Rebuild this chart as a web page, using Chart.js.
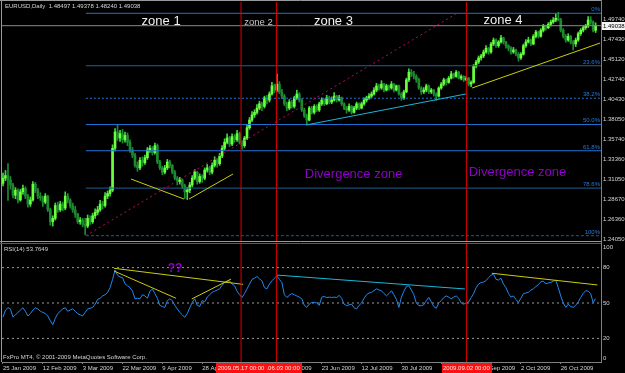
<!DOCTYPE html>
<html><head><meta charset="utf-8">
<script src="https://cdn.jsdelivr.net/npm/chart.js@4.4.0/dist/chart.umd.min.js"></script>
<style>
html,body{margin:0;padding:0;background:#000;width:625px;height:373px;overflow:hidden}
canvas{position:absolute;left:0;top:0}
</style></head><body>
<canvas id="main" width="625" height="373"></canvas>
<canvas id="rsi" width="625" height="373"></canvas>
<script>
// ---------------- DATA ----------------
const symbolTitle = "EURUSD,Daily  1.48497 1.49378 1.48240 1.49038";
const opens = [
1.3060,1.3120,1.3150,1.3100,1.3040,1.2920,1.2980,1.2865,1.2960,1.3000,
1.2910,1.2817,1.2865,1.3050,1.2980,1.2910,1.2890,1.2840,1.2910,1.2750,
1.2610,1.2650,1.2800,1.2750,1.2817,1.2770,1.2910,1.2865,1.2800,1.2750,
1.2700,1.2610,1.2630,1.2580,1.2560,1.2650,1.2610,1.2680,1.2720,1.2750,
1.2817,1.2800,1.2910,1.2940,1.2980,1.3470,1.3660,1.3590,1.3640,1.3570,
1.3620,1.3540,1.3450,1.3390,1.3270,1.3240,1.3330,1.3300,1.3360,1.3450,
1.3470,1.3420,1.3500,1.3310,1.3240,1.3190,1.3240,1.3310,1.3270,1.3190,
1.3120,1.3080,1.3100,1.3030,1.2960,1.2980,1.3040,1.3120,1.3190,1.3080,
1.3140,1.3120,1.3215,1.3240,1.3190,1.3270,1.3330,1.3290,1.3380,1.3470,
1.3540,1.3590,1.3520,1.3606,1.3570,1.3640,1.3540,1.3500,1.3590,1.3710,
1.3800,1.3860,1.3890,1.3940,1.3990,1.3960,1.4060,1.4034,1.4105,1.4200,
1.4150,1.4220,1.4130,1.4080,1.3990,1.3940,1.4010,1.3960,1.4060,1.4105,
1.4034,1.3917,1.3850,1.3800,1.3940,1.3890,1.3960,1.3917,1.3990,1.4034,
1.3990,1.4060,1.4010,1.4034,1.4080,1.4034,1.4060,1.3990,1.3940,1.3917,
1.3960,1.3890,1.3940,1.3990,1.3940,1.3990,1.4034,1.4060,1.4080,1.4105,
1.4150,1.4200,1.4175,1.4220,1.4150,1.4200,1.4175,1.4220,1.4150,1.4200,
1.4105,1.4060,1.4130,1.4270,1.4360,1.4340,1.4310,1.4270,1.4175,1.4130,
1.4150,1.4200,1.4130,1.4150,1.4105,1.4080,1.4175,1.4220,1.4270,1.4240,
1.4290,1.4340,1.4310,1.4360,1.4290,1.4310,1.4270,1.4290,1.4220,1.4240,
1.4430,1.4478,1.4526,1.4550,1.4596,1.4640,1.4596,1.4690,1.4736,1.4670,
1.4713,1.4760,1.4713,1.4670,1.4640,1.4596,1.4620,1.4570,1.4526,1.4570,
1.4670,1.4713,1.4736,1.4690,1.4780,1.4830,1.4780,1.4850,1.4900,1.4880,
1.4920,1.4947,1.4970,1.4990,1.4970,1.4850,1.4780,1.4736,1.4780,1.4713,
1.4690,1.4736,1.4810,1.4850,1.4880,1.4900,1.4970,1.4947,1.48497];
const highs = [
1.3180,1.3210,1.3290,1.3140,1.3060,1.3010,1.2995,1.2990,1.3040,1.3020,
1.2930,1.2900,1.3080,1.3070,1.3000,1.2950,1.2910,1.2940,1.2920,1.2770,
1.2680,1.2830,1.2840,1.2850,1.2840,1.2960,1.2940,1.2880,1.2830,1.2790,
1.2710,1.2660,1.2650,1.2650,1.2690,1.2680,1.2710,1.2760,1.2790,1.2860,
1.2850,1.2950,1.2970,1.3020,1.3510,1.3700,1.3740,1.3680,1.3690,1.3660,
1.3650,1.3570,1.3480,1.3410,1.3310,1.3360,1.3370,1.3390,1.3480,1.3500,
1.3490,1.3530,1.3520,1.3330,1.3260,1.3270,1.3340,1.3330,1.3280,1.3210,
1.3140,1.3130,1.3110,1.3050,1.3010,1.3070,1.3150,1.3220,1.3200,1.3170,
1.3160,1.3240,1.3280,1.3260,1.3300,1.3370,1.3350,1.3410,1.3500,1.3580,
1.3640,1.3610,1.3640,1.3630,1.3680,1.3660,1.3560,1.3610,1.3740,1.3830,
1.3900,1.3920,1.3980,1.4020,1.4010,1.4080,1.4090,1.4130,1.4240,1.4220,
1.4340,1.4250,1.4160,1.4100,1.4010,1.4040,1.4030,1.4080,1.4150,1.4120,
1.4050,1.3940,1.3870,1.3960,1.3960,1.3980,1.3980,1.4010,1.4060,1.4050,
1.4090,1.4080,1.4070,1.4120,1.4090,1.4090,1.4070,1.4000,1.3960,1.3990,
1.3970,1.3960,1.4010,1.4000,1.4010,1.4060,1.4080,1.4110,1.4130,1.4180,
1.4230,1.4220,1.4260,1.4230,1.4220,1.4210,1.4250,1.4230,1.4210,1.4210,
1.4120,1.4150,1.4290,1.4400,1.4390,1.4370,1.4330,1.4290,1.4190,1.4180,
1.4220,1.4210,1.4170,1.4160,1.4120,1.4190,1.4240,1.4290,1.4280,1.4310,
1.4370,1.4350,1.4380,1.4370,1.4330,1.4320,1.4310,1.4300,1.4260,1.4450,
1.4500,1.4550,1.4570,1.4620,1.4670,1.4650,1.4710,1.4760,1.4750,1.4730,
1.4790,1.4770,1.4720,1.4680,1.4660,1.4650,1.4630,1.4590,1.4590,1.4690,
1.4740,1.4770,1.4750,1.4800,1.4850,1.4840,1.4870,1.4920,1.4910,1.4940,
1.4970,1.5000,1.5040,1.5061,1.4990,1.4870,1.4800,1.4810,1.4790,1.4730,
1.4760,1.4830,1.4870,1.4900,1.4920,1.5010,1.5010,1.4960,1.49378];
const lows = [
1.3030,1.3090,1.2860,1.2990,1.2890,1.2880,1.2830,1.2850,1.2930,1.2880,
1.2780,1.2790,1.2850,1.2950,1.2880,1.2860,1.2790,1.2820,1.2730,1.2570,
1.2560,1.2630,1.2720,1.2730,1.2740,1.2750,1.2830,1.2770,1.2720,1.2660,
1.2590,1.2580,1.2550,1.2455,1.2540,1.2580,1.2590,1.2650,1.2690,1.2730,
1.2760,1.2780,1.2880,1.2910,1.2960,1.3440,1.3560,1.3550,1.3530,1.3540,
1.3500,1.3420,1.3360,1.3250,1.3200,1.3220,1.3260,1.3280,1.3340,1.3420,
1.3390,1.3400,1.3290,1.3220,1.3160,1.3170,1.3220,1.3240,1.3170,1.3100,
1.3040,1.3050,1.3000,1.2880,1.2870,1.2950,1.3020,1.3100,1.3050,1.3060,
1.3070,1.3100,1.3190,1.3160,1.3170,1.3250,1.3250,1.3270,1.3360,1.3450,
1.3520,1.3490,1.3500,1.3540,1.3550,1.3520,1.3460,1.3480,1.3570,1.3690,
1.3780,1.3830,1.3870,1.3920,1.3910,1.3940,1.3990,1.4010,1.4090,1.4120,
1.4130,1.4110,1.4050,1.3970,1.3910,1.3920,1.3940,1.3940,1.4040,1.4010,
1.3900,1.3830,1.3745,1.3790,1.3870,1.3870,1.3900,1.3900,1.3970,1.3970,
1.3980,1.3990,1.3990,1.4020,1.4010,1.4020,1.3970,1.3920,1.3880,1.3900,
1.3870,1.3880,1.3920,1.3920,1.3930,1.3970,1.4010,1.4040,1.4060,1.4090,
1.4130,1.4150,1.4160,1.4130,1.4140,1.4150,1.4160,1.4130,1.4140,1.4090,
1.4030,1.4040,1.4120,1.4250,1.4310,1.4280,1.4240,1.4160,1.4100,1.4110,
1.4130,1.4110,1.4110,1.4080,1.4030,1.4070,1.4160,1.4200,1.4210,1.4230,
1.4280,1.4290,1.4300,1.4280,1.4270,1.4250,1.4260,1.4200,1.4190,1.4230,
1.4410,1.4460,1.4500,1.4530,1.4580,1.4570,1.4580,1.4670,1.4650,1.4650,
1.4700,1.4690,1.4640,1.4610,1.4570,1.4580,1.4550,1.4490,1.4510,1.4560,
1.4650,1.4700,1.4670,1.4680,1.4760,1.4760,1.4770,1.4830,1.4850,1.4870,
1.4900,1.4930,1.4950,1.4960,1.4830,1.4760,1.4710,1.4720,1.4690,1.4620,
1.4660,1.4720,1.4790,1.4830,1.4860,1.4880,1.4920,1.4830,1.48240];
const closes = [
1.3120,1.3150,1.3100,1.3040,1.2920,1.2980,1.2865,1.2960,1.3000,1.2910,
1.2817,1.2865,1.3050,1.2980,1.2910,1.2890,1.2840,1.2910,1.2750,1.2610,
1.2650,1.2800,1.2750,1.2817,1.2770,1.2910,1.2865,1.2800,1.2750,1.2700,
1.2610,1.2630,1.2580,1.2560,1.2650,1.2610,1.2680,1.2720,1.2750,1.2817,
1.2800,1.2910,1.2940,1.2980,1.3470,1.3660,1.3590,1.3640,1.3570,1.3620,
1.3540,1.3450,1.3390,1.3270,1.3240,1.3330,1.3300,1.3360,1.3450,1.3470,
1.3420,1.3500,1.3310,1.3240,1.3190,1.3240,1.3310,1.3270,1.3190,1.3120,
1.3080,1.3100,1.3030,1.2960,1.2980,1.3040,1.3120,1.3190,1.3080,1.3140,
1.3120,1.3215,1.3240,1.3190,1.3270,1.3330,1.3290,1.3380,1.3470,1.3540,
1.3590,1.3520,1.3606,1.3570,1.3640,1.3540,1.3500,1.3590,1.3710,1.3800,
1.3860,1.3890,1.3940,1.3990,1.3960,1.4060,1.4034,1.4105,1.4200,1.4150,
1.4220,1.4130,1.4080,1.3990,1.3940,1.4010,1.3960,1.4060,1.4105,1.4034,
1.3917,1.3850,1.3800,1.3940,1.3890,1.3960,1.3917,1.3990,1.4034,1.3990,
1.4060,1.4010,1.4034,1.4080,1.4034,1.4060,1.3990,1.3940,1.3917,1.3960,
1.3890,1.3940,1.3990,1.3940,1.3990,1.4034,1.4060,1.4080,1.4105,1.4150,
1.4200,1.4175,1.4220,1.4150,1.4200,1.4175,1.4220,1.4150,1.4200,1.4105,
1.4060,1.4130,1.4270,1.4360,1.4340,1.4310,1.4270,1.4175,1.4130,1.4150,
1.4200,1.4130,1.4150,1.4105,1.4080,1.4175,1.4220,1.4270,1.4240,1.4290,
1.4340,1.4310,1.4360,1.4290,1.4310,1.4270,1.4290,1.4220,1.4240,1.4430,
1.4478,1.4526,1.4550,1.4596,1.4640,1.4596,1.4690,1.4736,1.4670,1.4713,
1.4760,1.4713,1.4670,1.4640,1.4596,1.4620,1.4570,1.4526,1.4570,1.4670,
1.4713,1.4736,1.4690,1.4780,1.4830,1.4780,1.4850,1.4900,1.4880,1.4920,
1.4947,1.4970,1.4990,1.4970,1.4850,1.4780,1.4736,1.4780,1.4713,1.4690,
1.4736,1.4810,1.4850,1.4880,1.4900,1.4970,1.4947,1.4850,1.49038];
const rsiValues = [
38,44,46,45,38,40,42,44,46,43,
39,41,44,46,45,43,42,41,39,35,
31.6,37,41,43,45,46,43,44,45,43,
41,40,39,42,45,45.5,46.3,49,53,54,
56,57,59,63,70,78,73.5,72,71.6,66.3,
64.6,63,60,53.6,54,53.6,57,56,54,60,
61.8,58,54,48,47,46.3,52,53.6,52,48,
45,42,40,37.8,41,46,50.5,53.6,48,47,
52,51,55,57,59,60,61,62,65,67.4,
68,68.8,66,64.6,60,57,54.7,58,62,66,
70,71,72.5,70.5,68.8,63,62,66,68.8,71,
73,70,67.4,57,54.7,56.5,58,57,56,55,
53.6,48,46.3,49,50.5,50.5,50,48,55,55.5,
54.6,55,54.6,55,54.6,56.5,54,49,47.7,48.5,
49,46,45,48,50,54,57,58.5,59,60.5,
62,61,60.4,58,56,58,60.4,57,53,46.3,
55,60,64,64.6,61,57,50,47.7,47.7,48.5,
52,54.7,51,47,45.5,50,52,54.5,56,55,
53.6,55,56,54,50,49,50,51,54.5,58,
63,66,67.4,67.8,69,71.5,73.5,74.5,70,69.5,
71,66,63,58,55,56,53,50.5,54,58,
58.5,59,61,62,64,65.5,68,68.5,66.3,67,
67.4,68.5,69.4,63,56,50,46.3,49,47,46.3,
48,51,54.7,58,60.4,60,58,50.5,53.7649];
const rsiTitle = "RSI(14) 53.7649";
const copyright = "FxPro MT4, \u00a9 2001-2009 MetaQuotes Software Corp.";

const xTickBars = [0,16,32,48,64,80,96,112,128,144,160,176,192,208,224];
const xTickLabels = ["25 Jan 2009","12 Feb 2009","3 Mar 2009","22 Mar 2009","9 Apr 2009","28 Apr 2009","17 May 2009","4 Jun 2009","23 Jun 2009","12 Jul 2009","30 Jul 2009","18 Aug 2009","14 Sep 2009","2 Oct 2009","26 Oct 2009"];
const priceTicks = [1.4974,1.4743,1.4512,1.4274,1.4043,1.3805,1.3574,1.3336,1.3105,1.2867,1.2636,1.2405];
const rsiTicks = [20,50,80];
const rsiLevels = [80,50,20];

const fibAnchorBars = [33.3,182.3];
const fibAnchorPrices = [1.2447,1.5049];
const fibLevels = [0,23.6,38.2,50,61.8,78.6,100];
const fibLabels = ["0%","23.6%","38.2%","50.0%","61.8%","78.6%","100%"];

const vLineBars = [95.6,109.8,186.1];
const vLineLabels = ["2009.05.17 00:00","2009.06.03 00:00","2009.09.02 00:00"];

// price trendlines [bar, price] pairs
const zone1LeftLine = [[51.4,1.3110],[72.7,1.2876]];
const zone1RightLine = [[74.7,1.2876],[92.4,1.3169]];
const zone3Support = [[121.7,1.3742],[185.9,1.4105]];
const zone4Support = [[188.4,1.4175],[239.8,1.4701]];
// RSI trendlines [bar, rsi] pairs
const rsiTopLine = [[44.6,79.4],[96.4,65.8]];
const rsiDownLine = [[44.6,77.1],[69.5,54.0]];
const rsiUpLine = [[75.8,53.4],[91.6,70.3]];
const rsiZone3Line = [[109.8,73.7],[185.5,61.9]];
const rsiZone4Line = [[196.3,75.2],[238.7,65.3]];

const zoneTexts = ["zone 1","zone 2","zone 3","zone 4"];
const zoneBars = [63.5,102.6,132.7,200.8];
const zonePrices = [1.4951,1.4947,1.4951,1.4962];
const divergenceText = "Divergence zone";
const divergenceBars = [140.8,206.6];
const divergencePrices = [1.3169,1.3184];
const questionText = "??";
const questionAt = [69.1,78.8];

// ---------------- STYLE / LAYOUT ----------------
const xMin = -0.4, xMax = 240.16;
const priceMin = 1.2385, priceMax = 1.5181;
const FONT = "Liberation Sans";
const TXT = "#d4d4d4";
const BODY_UP = "#6cff3c", BODY_DN = "#1d8a30", WICK_UP = "#3fd83f", WICK_DN = "#1d8a30";
const FIB_COLORS = ["#1e72d6","#1d6294","#1e72d6","#1e72d6","#1e72d6","#1d6294","#1e5aa0"];
const FIB_DASH = [[],[],[2,2],[],[],[],[3,2]];
const YELLOW = "#cccc10", CYAN = "#18b8d8", RED = "#e00000", PURPLE = "#8c00c8";

const idx = closes.map((_, i) => i);
const up = i => closes[i] >= opens[i];
const seg = (pts, color, extra) => Object.assign({
  type:'line', data: pts.map(p => ({x:p[0], y:p[1]})), borderColor: color,
  borderWidth:1, pointRadius:0, fill:false, tension:0, order:1
}, extra || {});

const fibPrice = pct => fibAnchorPrices[1] - (fibAnchorPrices[1]-fibAnchorPrices[0])*pct/100;

const mainDatasets = [
  {type:'bar', data: idx.map(i => ({x:i, y:[lows[i], highs[i]]})), backgroundColor: idx.map(i => up(i)?WICK_UP:WICK_DN), barThickness:1, grouped:false, order:10},
  {type:'bar', data: idx.map(i => ({x:i, y:[opens[i], closes[i]]})), backgroundColor: idx.map(i => up(i)?BODY_UP:BODY_DN), barThickness:2, minBarLength:1, grouped:false, order:9},
  seg([[xMin, closes[closes.length-1]],[xMax, closes[closes.length-1]]], '#8a8a8a', {order:8}),
];
fibLevels.forEach((pct, k) => {
  mainDatasets.push(seg([[fibAnchorBars[0], fibPrice(pct)],[xMax, fibPrice(pct)]], FIB_COLORS[k], {borderDash: FIB_DASH[k], order:5}));
});
mainDatasets.push(seg([[fibAnchorBars[0], fibAnchorPrices[0]],[fibAnchorBars[1], fibAnchorPrices[1]]], '#b01060', {borderDash:[2,3]}));
mainDatasets.push(seg(zone1LeftLine, YELLOW));
mainDatasets.push(seg(zone1RightLine, YELLOW));
mainDatasets.push(seg(zone3Support, CYAN));
mainDatasets.push(seg(zone4Support, YELLOW));
vLineBars.forEach(b => mainDatasets.push(seg([[b, priceMin],[b, priceMax]], RED, {order:0})));

const mainTextPlugin = {
  id:'mainText',
  afterDatasetsDraw(chart) {
    const ctx = chart.ctx, xs = chart.scales.x, ys = chart.scales.y, ca = chart.chartArea;
    ctx.save();
    ctx.textBaseline = 'middle';
    // header
    ctx.font = `6px "${FONT}"`; ctx.fillStyle = TXT; ctx.textAlign = 'left';
    ctx.fillText(symbolTitle, 5, 6.5);
    // zone labels
    ctx.textAlign = 'center';
    zoneTexts.forEach((t, k) => {
      ctx.font = k === 1 ? `9.5px "${FONT}"` : `13px "${FONT}"`;
      ctx.fillStyle = k === 1 ? '#c8c8c8' : '#f0f0f0';
      ctx.fillText(t, xs.getPixelForValue(zoneBars[k]), ys.getPixelForValue(zonePrices[k]));
    });
    ctx.font = `13px "${FONT}"`; ctx.fillStyle = PURPLE;
    divergenceBars.forEach((b, k) => ctx.fillText(divergenceText, xs.getPixelForValue(b), ys.getPixelForValue(divergencePrices[k])));
    // fib labels
    ctx.font = `6px "${FONT}"`; ctx.textAlign = 'right'; ctx.textBaseline = 'alphabetic';
    fibLevels.forEach((pct, k) => {
      ctx.fillStyle = '#2a78d8';
      ctx.fillText(fibLabels[k], ca.right - 1, ys.getPixelForValue(fibPrice(pct)) - 2);
    });
    ctx.restore();
  },
  afterDraw(chart) {
    const ctx = chart.ctx, ys = chart.scales.y, ca = chart.chartArea;
    const last = closes[closes.length-1];
    const y = Math.round(ys.getPixelForValue(last));
    ctx.save();
    ctx.fillStyle = '#f4f4f4';
    ctx.fillRect(ca.right + 1, y - 4, 24, 8);
    ctx.fillStyle = '#000';
    ctx.font = `6px "${FONT}"`; ctx.textBaseline = 'middle'; ctx.textAlign = 'left';
    ctx.fillText(last.toFixed(5), ca.right + 2, y + 0.5);
    ctx.restore();
  }
};

new Chart(document.getElementById('main'), {
  type:'bar',
  data:{datasets: mainDatasets},
  options:{
    responsive:false, devicePixelRatio:1, animation:false, events:[],
    layout:{padding:{left:2, top:2, right:0, bottom:132}},
    plugins:{legend:{display:false}, tooltip:{enabled:false}},
    scales:{
      x:{type:'linear', min:xMin, max:xMax, offset:false, display:false},
      y:{type:'linear', position:'right', min:priceMin, max:priceMax, beginAtZero:false,
        afterBuildTicks: s => { s.ticks = priceTicks.map(v => ({value:v})); },
        afterFit: s => { s.width = 24; s.paddingTop = 0; s.paddingBottom = 0; },
        grid:{display:false, drawTicks:false},
        border:{display:true, color:'#808080'},
        ticks:{padding:2, color:TXT, font:{family:FONT, size:6}, callback: v => Number(v).toFixed(5)}
      }
    }
  },
  plugins:[mainTextPlugin]
});

// ---------------- RSI ----------------
const rsiDatasets = [
  seg(idx.map(i => [i, rsiValues[i]]), '#2288ee', {order:2}),
];
rsiLevels.forEach(l => rsiDatasets.push(seg([[xMin,l],[xMax,l]], '#9a9a9a', {borderDash:[2,3], order:6})));
rsiDatasets.push(seg(rsiTopLine, YELLOW));
rsiDatasets.push(seg(rsiDownLine, YELLOW));
rsiDatasets.push(seg(rsiUpLine, YELLOW));
rsiDatasets.push(seg(rsiZone3Line, CYAN));
rsiDatasets.push(seg(rsiZone4Line, YELLOW));
vLineBars.forEach(b => rsiDatasets.push(seg([[b,0],[b,100]], RED, {order:0})));

const rsiTextPlugin = {
  id:'rsiText',
  afterDraw(chart) {
    const ctx = chart.ctx, xs = chart.scales.x, ys = chart.scales.y, ca = chart.chartArea;
    ctx.save();
    // frame & separator
    ctx.lineWidth = 1;
    ctx.strokeStyle = '#9a9a9a';
    ctx.beginPath(); ctx.moveTo(0, 0.5); ctx.lineTo(ca.right, 0.5); ctx.stroke();
    ctx.beginPath(); ctx.moveTo(1.5, 0); ctx.lineTo(1.5, ca.bottom); ctx.stroke();
    ctx.beginPath(); ctx.moveTo(0, 241.5); ctx.lineTo(ca.right, 241.5); ctx.stroke();
    ctx.strokeStyle = '#5a5a5a';
    ctx.beginPath(); ctx.moveTo(0, 243.5); ctx.lineTo(ca.right, 243.5); ctx.stroke();
    ctx.strokeStyle = '#808080';
    ctx.beginPath(); ctx.moveTo(ca.right + 0.5, 0); ctx.lineTo(ca.right + 0.5, 244); ctx.stroke();
    // texts
    ctx.font = `6px "${FONT}"`; ctx.fillStyle = TXT; ctx.textAlign = 'left'; ctx.textBaseline = 'middle';
    ctx.fillText(rsiTitle, 4, 249.5);
    ctx.fillText(copyright, 3, 357);
    ctx.fillText("100", ca.right + 2, 247.5);
    ctx.fillText("0", ca.right + 2, 358.5);
    ctx.font = `bold 12px "${FONT}"`; ctx.fillStyle = PURPLE; ctx.textAlign = 'center';
    ctx.fillText(questionText, xs.getPixelForValue(questionAt[0]), ys.getPixelForValue(questionAt[1]));
    // red time labels on the axis
    ctx.font = `6px "${FONT}"`; ctx.textBaseline = 'middle';
    for (let k = vLineBars.length - 1; k >= 0; k--) {
      const x = xs.getPixelForValue(vLineBars[k]);
      const w = ctx.measureText(vLineLabels[k]).width + 3;
      ctx.fillStyle = '#ff1010';
      ctx.fillRect(Math.round(x - w/2), 363, Math.round(w), 10);
      ctx.fillStyle = '#ffe8e8'; ctx.textAlign = 'center';
      ctx.fillText(vLineLabels[k], x, 368.5);
    }
    ctx.restore();
  }
};

new Chart(document.getElementById('rsi'), {
  type:'line',
  data:{datasets: rsiDatasets},
  options:{
    responsive:false, devicePixelRatio:1, animation:false, events:[],
    layout:{padding:{left:2, top:244, right:0, bottom:0}},
    plugins:{legend:{display:false}, tooltip:{enabled:false}},
    scales:{
      x:{type:'linear', min:xMin, max:xMax, offset:false, position:'bottom',
        afterBuildTicks: s => { s.ticks = xTickBars.map(v => ({value:v})); },
        afterFit: s => { s.height = 11; s.paddingLeft = 0; s.paddingRight = 0; },
        grid:{display:true, drawOnChartArea:false, drawTicks:true, tickLength:2, color:'#808080'},
        border:{display:true, color:'#808080'},
        ticks:{autoSkip:false, maxRotation:0, minRotation:0, align:'start', padding:1, color:TXT,
          font:{family:FONT, size:6}, callback:(v, i) => xTickLabels[i]}
      },
      y:{type:'linear', position:'right', min:0, max:100,
        afterBuildTicks: s => { s.ticks = rsiTicks.map(v => ({value:v})); },
        afterFit: s => { s.width = 24; s.paddingTop = 0; s.paddingBottom = 0; },
        grid:{display:false, drawTicks:false},
        border:{display:true, color:'#808080'},
        ticks:{padding:2, color:TXT, font:{family:FONT, size:6}}
      }
    }
  },
  plugins:[rsiTextPlugin]
});
</script>
</body></html>
